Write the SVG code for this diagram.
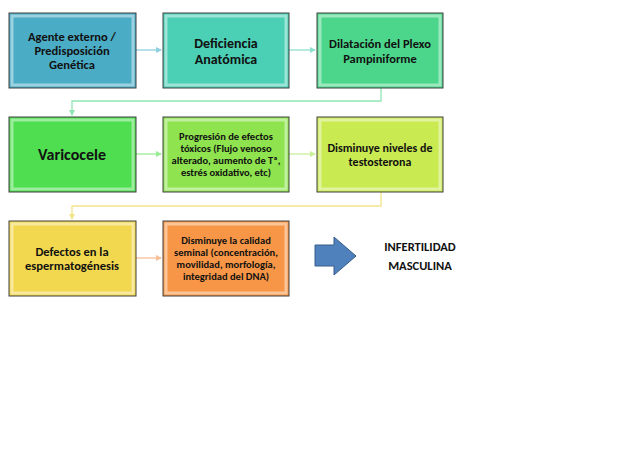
<svg xmlns="http://www.w3.org/2000/svg" width="636" height="460" viewBox="0 0 636 460">
<style>
.b{stroke:#404040;stroke-width:1}
.i{fill:none;stroke:#ffffff;stroke-opacity:0.45;stroke-width:3}
text{font-family:Calibri,Carlito,"Liberation Sans",sans-serif;font-weight:bold;fill:#111;text-anchor:middle}
.c{fill:none;stroke-width:1.3}
</style>
<defs>
<marker id="a" viewBox="0 0 6 6" refX="5" refY="3" markerWidth="5" markerHeight="5" orient="auto"><path d="M0,0L6,3L0,6z" fill="context-stroke"/></marker>
</defs>
<rect width="636" height="460" fill="#fff"/>
<g id="connectors">
<path class="c" stroke="#8fd0e0" d="M136,50H161" marker-end="url(#a)"/>
<path class="c" stroke="#8fe0cf" d="M289,50H315" marker-end="url(#a)"/>
<path class="c" stroke="#90e6b4" d="M381,88V101H72V115" marker-end="url(#a)"/>
<path class="c" stroke="#9aeb9a" d="M136,154H161" marker-end="url(#a)"/>
<path class="c" stroke="#c8f09a" d="M289,154H315" marker-end="url(#a)"/>
<path class="c" stroke="#f2e48a" d="M381,192V206H72V219" marker-end="url(#a)"/>
<path class="c" stroke="#f8bf99" d="M136,258H161" marker-end="url(#a)"/>
</g>
<g id="n1"><rect class="b" x="9" y="13" width="127" height="75" fill="#4bacc6"/><rect class="i" x="12" y="16" width="121" height="69"/>
<text font-size="12.5"><tspan x="72" y="41">Agente externo /</tspan><tspan x="72" y="55">Predisposición</tspan><tspan x="72" y="69">Genética</tspan></text></g>
<g id="n2"><rect class="b" x="163" y="13" width="126" height="75" fill="#4bcfb5"/><rect class="i" x="166" y="16" width="120" height="69"/>
<text font-size="14"><tspan x="226" y="48">Deficiencia</tspan><tspan x="226" y="64">Anatómica</tspan></text></g>
<g id="n3"><rect class="b" x="317" y="13" width="126" height="75" fill="#4cd68b"/><rect class="i" x="320" y="16" width="120" height="69"/>
<text font-size="12.5"><tspan x="380" y="48">Dilatación del Plexo</tspan><tspan x="380" y="63">Pampiniforme</tspan></text></g>
<g id="n4"><rect class="b" x="9" y="117" width="127" height="75" fill="#4ede50"/><rect class="i" x="12" y="120" width="121" height="69"/>
<text font-size="16"><tspan x="72" y="160">Varicocele</tspan></text></g>
<g id="n5"><rect class="b" x="163" y="117" width="126" height="75" fill="#8ee34f"/><rect class="i" x="166" y="120" width="120" height="69"/>
<text font-size="10.5"><tspan x="226" y="140">Progresión de efectos</tspan><tspan x="226" y="152">tóxicos (Flujo venoso</tspan><tspan x="226" y="164">alterado, aumento de Tª,</tspan><tspan x="226" y="176">estrés oxidativo, etc)</tspan></text></g>
<g id="n6"><rect class="b" x="317" y="117" width="126" height="75" fill="#c9ea50"/><rect class="i" x="320" y="120" width="120" height="69"/>
<text font-size="12"><tspan x="380" y="152">Disminuye niveles de</tspan><tspan x="380" y="166">testosterona</tspan></text></g>
<g id="n7"><rect class="b" x="9" y="221" width="127" height="75" fill="#f2d84f"/><rect class="i" x="12" y="224" width="121" height="69"/>
<text font-size="12.5"><tspan x="72" y="256">Defectos en la</tspan><tspan x="72" y="270">espermatogénesis</tspan></text></g>
<g id="n8"><rect class="b" x="163" y="221" width="126" height="75" fill="#f79646"/><rect class="i" x="166" y="224" width="120" height="69"/>
<text font-size="10.5"><tspan x="226" y="244">Disminuye la calidad</tspan><tspan x="226" y="256">seminal (concentración,</tspan><tspan x="226" y="268">movilidad, morfología,</tspan><tspan x="226" y="280">integridad del DNA)</tspan></text></g>
<g id="arrow"><polygon points="315,245 334,245 334,237 356,256 334,275 334,266 315,266" fill="#4f81bd" stroke="#385d8a" stroke-width="1"/></g>
<g id="result"><text font-size="12.5"><tspan x="420" y="251">INFERTILIDAD</tspan><tspan x="420" y="270">MASCULINA</tspan></text></g>
</svg>
